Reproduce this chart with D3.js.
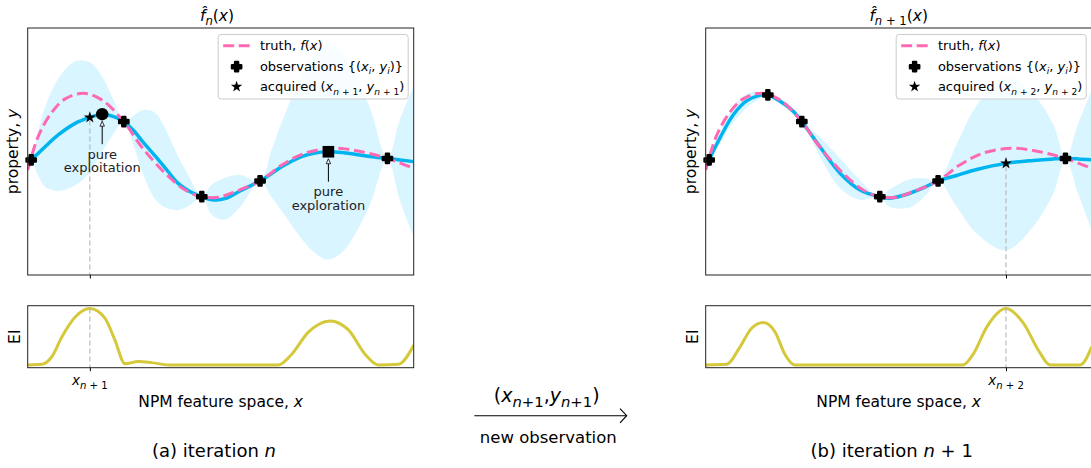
<!DOCTYPE html>
<html>
<head>
<meta charset="utf-8">
<script src="https://cdn.jsdelivr.net/npm/d3@7"></script>
<style>
    body { margin: 0; background: #fff; }
    svg { display: block; font-family: 'DejaVu Sans', sans-serif; }
    text { white-space: pre; }
</style>
</head>
<body>
<svg></svg>
<script>
// ground truth f(x), shared by both iterations
const truthX = [0, 0.27, 0.62, 0.97, 1.44, 1.92, 2.49, 2.95, 3.56, 4.08, 4.51, 4.94, 5.37, 6.02, 6.58, 7.18, 7.96, 8.65, 9.32, 10]
const truthY = [-0.75, 0.6, 1.58, 2.13, 2.36, 2.09, 1.21, 0.19, -0.88, -1.56, -1.83, -1.85, -1.63, -1.19, -0.55, -0.07, 0.13, -0.01, -0.28, -0.68]

// observations known at iteration n, and the one added for n+1
const obsX = [0.09, 2.49, 4.51, 6.02, 9.32]
const obsY = [-0.34, 1.21, -1.83, -1.19, -0.28]
const newObs = [1.61, 2.29]

// iteration n: GP mean / std, expected improvement
const gridA = [0, 0.09, 0.27, 0.45, 0.79, 1.23, 1.61, 1.92, 2.21, 2.49, 2.73, 2.99, 3.3, 3.56, 3.89, 4.2, 4.51, 4.77, 5.11, 5.5, 6.02, 6.3, 6.59, 7.11, 7.44, 7.78, 8.14, 8.48, 8.87, 9.32, 9.64, 10]
const meanA = [-0.62, -0.34, -0.08, 0.19, 0.67, 1.14, 1.38, 1.51, 1.42, 1.21, 0.87, 0.38, -0.18, -0.66, -1.28, -1.62, -1.83, -1.95, -1.91, -1.6, -1.19, -0.91, -0.61, -0.2, -0.06, -0.01, -0.04, -0.11, -0.2, -0.28, -0.34, -0.41]
const sdA = [0.4, 0, 0.89, 1.62, 2.27, 2.51, 2.23, 1.54, 0.73, 0, 0.57, 1.3, 1.75, 1.6, 1.1, 0.55, 0, 0.61, 0.85, 0.65, 0, 0.89, 1.82, 3.36, 4.05, 4.37, 4.05, 3.24, 1.94, 0, 1.62, 3.05]
const eiXA = [0, 0.36, 0.62, 0.88, 1.23, 1.61, 2, 2.26, 2.52, 2.87, 3.21, 3.64, 6.49, 6.84, 7.27, 7.83, 8.31, 8.74, 9.08, 9.6, 10]
const eiA = [0, 0.01, 0.14, 0.49, 0.85, 1, 0.83, 0.44, 0.02, 0.06, 0.04, 0, 0, 0.19, 0.58, 0.78, 0.62, 0.19, 0, 0.01, 0.35]
const acqA = [1.61, 1.38]
const exploitA = [1.93, 1.51]
const exploreA = [7.79, -0.01]

// iteration n+1
const gridB = [0, 0.09, 0.37, 0.72, 1.06, 1.35, 1.61, 2.01, 2.26, 2.49, 2.96, 3.48, 4, 4.51, 4.77, 5.29, 5.68, 6.02, 6.5, 7.02, 7.78, 8.49, 9.01, 9.32, 9.65, 10]
const meanB = [-0.68, -0.34, 0.55, 1.5, 2.05, 2.25, 2.29, 1.95, 1.64, 1.21, 0.19, -0.88, -1.56, -1.83, -1.89, -1.69, -1.44, -1.19, -0.97, -0.73, -0.48, -0.36, -0.3, -0.28, -0.3, -0.34]
const sdB = [0.2, 0, 0.2, 0.32, 0.28, 0.16, 0, 0.12, 0.12, 0, 0.4, 0.61, 0.4, 0, 0.36, 0.57, 0.36, 0, 1.26, 2.59, 3.52, 2.67, 1.38, 0, 1.42, 2.83]
const eiXB = [0, 0.54, 0.89, 1.19, 1.49, 1.8, 2.05, 2.31, 6.67, 6.93, 7.28, 7.78, 8.23, 8.62, 8.92, 9.7, 10]
const eiB = [0, 0.01, 0.32, 0.65, 0.75, 0.58, 0.19, 0, 0, 0.19, 0.67, 1, 0.74, 0.26, 0, 0, 0.32]
const acqB = [7.78, -0.48]

// labels, as [text, kind] runs: i = italic, s = subscript
const titleA = [['f\u0302', 'i'], ['n', 'si'], ['('], ['x', 'i'], [')']]
const titleB = [['f\u0302', 'i'], ['n', 'si'], [' + 1', 's'], ['('], ['x', 'i'], [')']]
const tickA = [['x', 'i'], ['n', 'si'], [' + 1', 's']]
const tickB = [['x', 'i'], ['n', 'si'], [' + 2', 's']]
const legTruth = [['truth, '], ['f', 'i'], ['('], ['x', 'i'], [')']]
const legObs = [['observations {('], ['x', 'i'], ['i', 'si'], [', '], ['y', 'i'], ['i', 'si'], [')}']]
const legAcqA = [['acquired ('], ['x', 'i'], ['n', 'si'], [' + 1', 's'], [', '], ['y', 'i'], ['n', 'si'], [' + 1', 's'], [')']]
const legAcqB = [['acquired ('], ['x', 'i'], ['n', 'si'], [' + 2', 's'], [', '], ['y', 'i'], ['n', 'si'], [' + 2', 's'], [')']]
const xLabel = [['NPM feature space, '], ['x', 'i']]
const yLabel = [['property, '], ['y', 'i']]
const captionA = [['(a) iteration '], ['n', 'i']]
const captionB = [['(b) iteration '], ['n', 'i'], [' + 1']]
const arrowLabel = [['('], ['x', 'i'], ['n', 'si'], ['+1', 's'], [','], ['y', 'i'], ['n', 'si'], ['+1', 's'], [')']]

const width = 1091,
    height = 468
const plotW = 386
const blue = '#00b4ef',
    pink = '#ff69b4',
    olive = '#d5c83a'

const svg = d3.select('svg').attr('width', width).attr('height', height).attr('viewBox', [0, 0, width, height])

function rich(text, parts, size, subScale = 0.7) {
    let shift = 0
    parts.forEach(([s, k = '']) => {
        const sub = k.includes('s')
        const d = sub ? size * 0.28 : 0
        text.append('tspan')
            .attr('dy', d - shift)
            .attr('font-size', sub ? size * subScale : size)
            .attr('font-style', k.includes('i') ? 'italic' : null)
            .text(s)
        shift = d
    })
    return text
}

function plusMarker(sel) {
    return sel
        .attr('d', d3.symbol(d3.symbolCross, 48))
        .attr('fill', '#000')
        .attr('stroke', '#000')
        .attr('stroke-width', 2.4)
        .attr('stroke-linejoin', 'round')
}

function drawPanel(p) {
    const x = d3.scaleLinear().domain([0, 10]).range([p.left, p.left + plotW])
    const y = d3.scaleLinear().domain([-5, 5]).range([275, 28])
    const yEI = d3.scaleLinear().domain([-0.05, 1.05]).range([367.7, 305.7])
    const g = svg.append('g')

    const defs = svg.append('defs')
    defs.append('clipPath').attr('id', 'top' + p.key)
        .append('rect').attr('x', p.left).attr('y', 28).attr('width', plotW).attr('height', 247)
    defs.append('clipPath').attr('id', 'ei' + p.key)
        .append('rect').attr('x', p.left).attr('y', 305.7).attr('width', plotW).attr('height', 62)

    const plot = g.append('g').attr('clip-path', `url(#top${p.key})`)
    const rows = p.grid.map((v, i) => ({ x: v, m: p.mean[i], s: p.sd[i] }))
    plot.append('path')
        .datum(rows)
        .attr('fill', '#00bfff')
        .attr('fill-opacity', 0.15)
        .attr('d', d3.area()
            .x((d) => x(d.x))
            .y0((d) => y(d.m - d.s))
            .y1((d) => y(d.m + d.s))
            .curve(d3.curveCatmullRom))
    plot.append('path')
        .datum(rows)
        .attr('fill', 'none')
        .attr('stroke', blue)
        .attr('stroke-width', 3.5)
        .attr('d', d3.line().x((d) => x(d.x)).y((d) => y(d.m)).curve(d3.curveCatmullRom))
    plot.append('path')
        .datum(truthX.map((v, i) => [v, truthY[i]]))
        .attr('fill', 'none')
        .attr('stroke', pink)
        .attr('stroke-width', 3)
        .attr('stroke-dasharray', '11,4.8')
        .attr('d', d3.line().x((d) => x(d[0])).y((d) => y(d[1])).curve(d3.curveCatmullRom))

    // guide from the acquired point down to the axis
    g.append('line')
        .attr('x1', x(p.acq[0])).attr('x2', x(p.acq[0]))
        .attr('y1', y(p.acq[1]) + 3).attr('y2', 275)
        .attr('stroke', '#bbb').attr('stroke-width', 1.2).attr('stroke-dasharray', '5,3')

    g.selectAll('.obs')
        .data(p.obsX.map((v, i) => [v, p.obsY[i]]))
        .join('path')
        .attr('transform', (d) => `translate(${x(d[0])},${y(d[1])})`)
        .call(plusMarker)

    if (p.exploit) {
        g.append('circle')
            .attr('cx', x(p.exploit[0])).attr('cy', y(p.exploit[1])).attr('r', 6.2)
        g.append('rect')
            .attr('x', x(p.explore[0]) - 5.8).attr('y', y(p.explore[1]) - 5.8)
            .attr('width', 11.6).attr('height', 11.6)
        ;[[p.exploit, ['pure', 'exploitation']], [p.explore, ['pure', 'exploration']]].forEach(([pt, lines]) => {
            const ax = x(pt[0]),
                ay = y(pt[1])
            g.append('line')
                .attr('x1', ax).attr('x2', ax).attr('y1', ay + 30).attr('y2', ay + 11)
                .attr('stroke', '#000').attr('stroke-width', 1)
            g.append('path')
                .attr('d', `M${ax},${ay + 7}L${ax - 2.2},${ay + 12}L${ax + 2.2},${ay + 12}Z`)
                .attr('fill', '#fff').attr('stroke', '#000').attr('stroke-width', 0.8)
            lines.forEach((t, i) => {
                g.append('text')
                    .attr('x', ax).attr('y', ay + 40 + i * 13.5)
                    .attr('text-anchor', 'middle').attr('dominant-baseline', 'central')
                    .attr('font-size', 13).attr('fill', '#222')
                    .text(t)
            })
        })
    }

    g.append('path')
        .attr('transform', `translate(${x(p.acq[0])},${y(p.acq[1])})`)
        .attr('d', d3.symbol(d3.symbolStar, 44))
        .attr('fill', '#000')

    // EI panel
    const ei = g.append('g').attr('clip-path', `url(#ei${p.key})`)
    const eiMax = d3.max(p.ei)
    g.append('line')
        .attr('x1', x(p.acq[0])).attr('x2', x(p.acq[0]))
        .attr('y1', yEI(eiMax)).attr('y2', 367.7)
        .attr('stroke', '#bbb').attr('stroke-width', 1.2).attr('stroke-dasharray', '5,3')
    ei.append('path')
        .datum(p.eiX.map((v, i) => [v, p.ei[i]]))
        .attr('fill', 'none')
        .attr('stroke', olive)
        .attr('stroke-width', 3)
        .attr('d', d3.line().x((d) => x(d[0])).y((d) => yEI(d[1])).curve(d3.curveMonotoneX))

    // frames and ticks
    ;[[28, 275], [305.7, 367.7]].forEach(([t, b]) => {
        g.append('rect')
            .attr('x', p.left).attr('y', t).attr('width', plotW).attr('height', b - t)
            .attr('fill', 'none').attr('stroke', '#222').attr('stroke-width', 1)
        g.append('g')
            .attr('transform', `translate(0,${b})`)
            .call(d3.axisBottom(x).tickValues([p.acq[0]]).tickSize(3.5).tickFormat(''))
            .call((a) => a.select('.domain').remove())
    })
    rich(g.append('text').attr('x', x(p.acq[0])).attr('y', 385).attr('text-anchor', 'middle'), p.tick, 13.5, 0.75)

    // legend
    const lg = g.append('g').attr('transform', `translate(${p.left + plotW - 195.5},34.5)`)
    lg.append('rect')
        .attr('width', 190).attr('height', 64.5).attr('rx', 3)
        .attr('fill', '#fff').attr('fill-opacity', 0.8)
        .attr('stroke', '#ccc').attr('stroke-width', 1)
    lg.append('line')
        .attr('x1', 5).attr('x2', 31.5).attr('y1', 11.2).attr('y2', 11.2)
        .attr('stroke', pink).attr('stroke-width', 3).attr('stroke-dasharray', '11,4.5')
    lg.append('path')
        .attr('transform', 'translate(18.4,32.2)')
        .call(plusMarker)
    lg.append('path')
        .attr('transform', 'translate(18.4,52.2)')
        .attr('d', d3.symbol(d3.symbolStar, 40))
        .attr('fill', '#000')
    ;[legTruth, legObs, p.legAcq].forEach((parts, i) => {
        rich(lg.append('text').attr('x', 41.7).attr('y', 15.8 + i * 20.5), parts, 13)
    })

    // titles and labels
    rich(g.append('text').attr('x', p.titleX).attr('y', 21).attr('text-anchor', 'middle'), p.title, 15.5, 0.75)
    rich(g.append('text').attr('x', p.left + plotW / 2).attr('y', 406.5).attr('text-anchor', 'middle'), xLabel, 15.5)
    rich(g.append('text')
        .attr('transform', `translate(${p.left - 9.5},151.5) rotate(-90)`)
        .attr('text-anchor', 'middle'), yLabel, 15.5)
    g.append('text')
        .attr('transform', `translate(${p.left - 8},336.7) rotate(-90)`)
        .attr('text-anchor', 'middle').attr('font-size', 15.5)
        .text('EI')
    rich(g.append('text').attr('x', p.captionX).attr('y', 457).attr('text-anchor', 'middle'), p.caption, 18)
}

drawPanel({
    key: 'a', left: 27.7,
    grid: gridA, mean: meanA, sd: sdA,
    obsX: obsX, obsY: obsY,
    eiX: eiXA, ei: eiA,
    acq: acqA, exploit: exploitA, explore: exploreA,
    title: titleA, titleX: 217, tick: tickA, legAcq: legAcqA,
    caption: captionA, captionX: 214
})
drawPanel({
    key: 'b', left: 705.7,
    grid: gridB, mean: meanB, sd: sdB,
    obsX: obsX.concat(newObs[0]), obsY: obsY.concat(newObs[1]),
    eiX: eiXB, ei: eiB,
    acq: acqB,
    title: titleB, titleX: 898.7, tick: tickB, legAcq: legAcqB,
    caption: captionB, captionX: 891.7
})

// arrow between the two iterations
svg.append('line')
    .attr('x1', 474.3).attr('x2', 626.5).attr('y1', 415.7).attr('y2', 415.7)
    .attr('stroke', '#000').attr('stroke-width', 1.1)
svg.append('path')
    .attr('d', 'M620,408.6L626.7,415.7L620,422.8')
    .attr('fill', 'none').attr('stroke', '#000').attr('stroke-width', 1.1)
rich(svg.append('text').attr('x', 546.7).attr('y', 402).attr('text-anchor', 'middle'), arrowLabel, 19, 0.78)
svg.append('text')
    .attr('x', 548.3).attr('y', 442.5)
    .attr('text-anchor', 'middle').attr('font-size', 16.5)
    .text('new observation')
</script>
</body>
</html>
